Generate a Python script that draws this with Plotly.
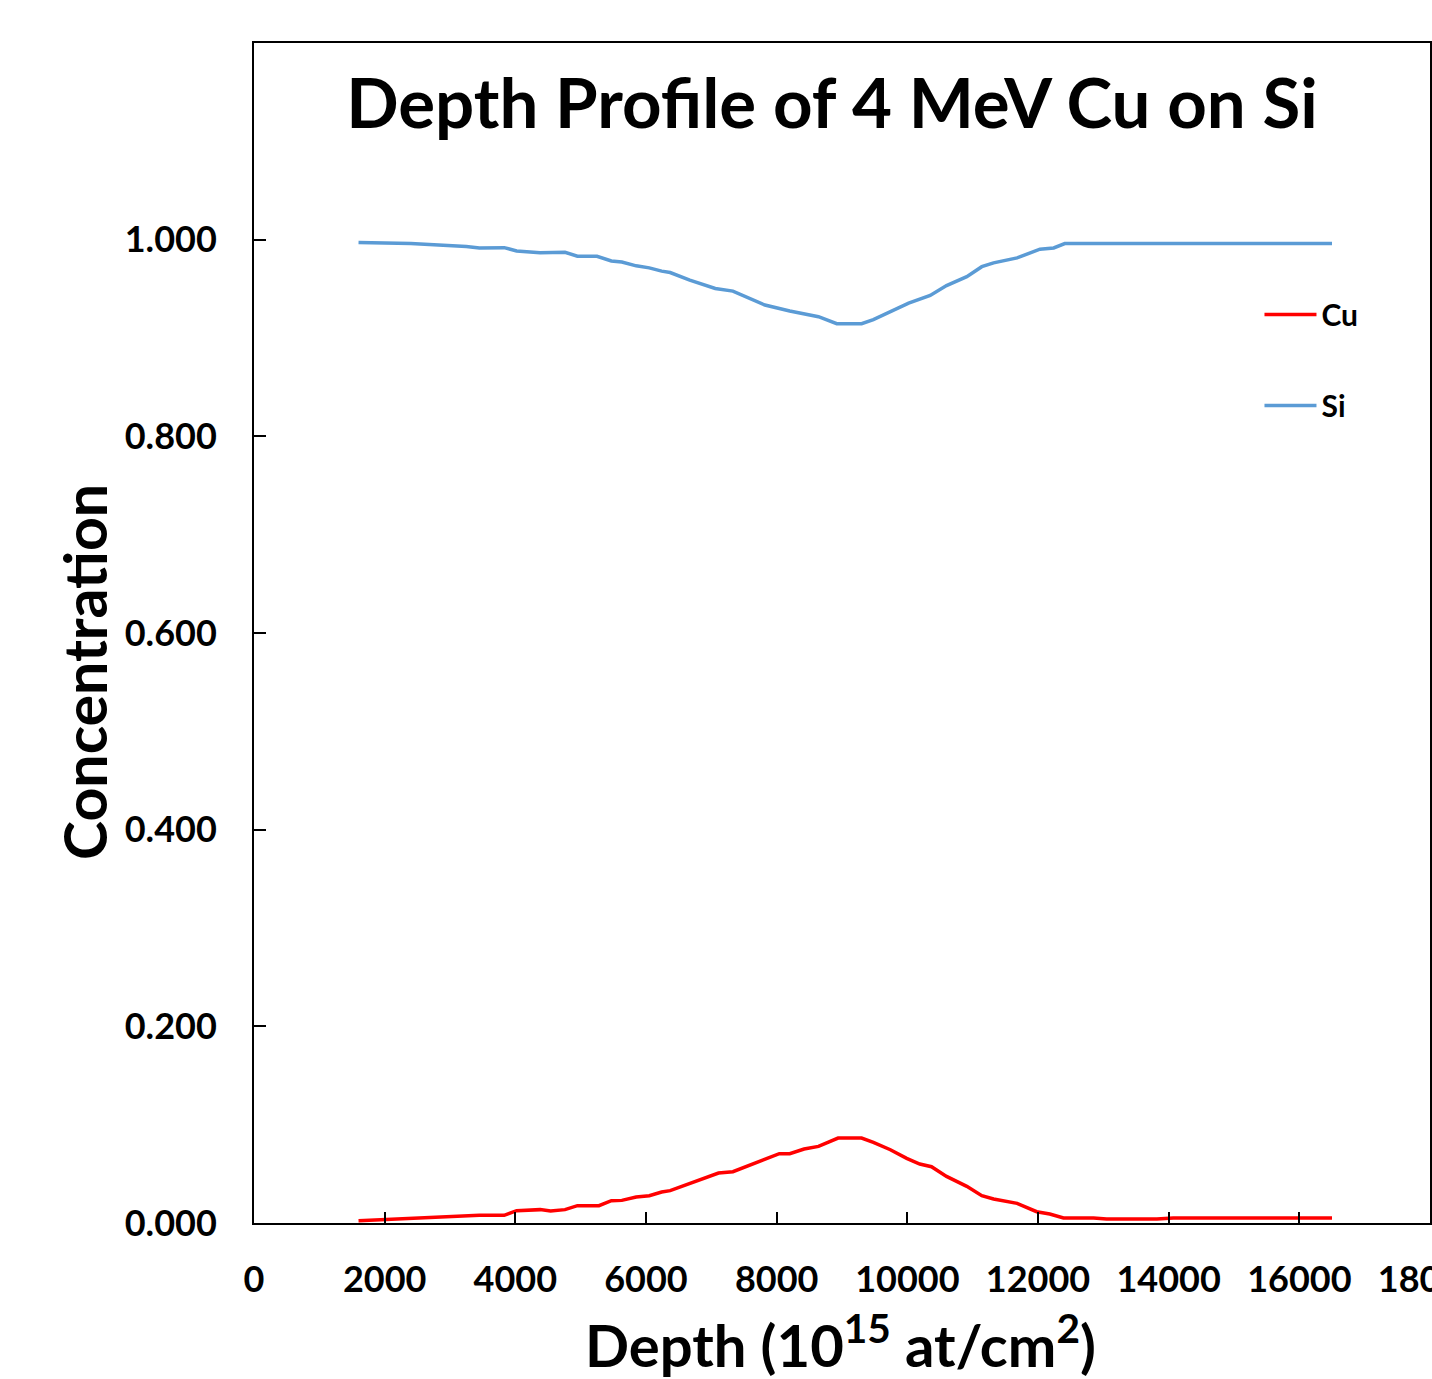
import plotly.graph_objects as go

# ---- data ----
cu_depth = [1600, 2400, 3250, 3450, 3830, 4020, 4380, 4540, 4760, 4950,
            5280, 5470, 5630, 5850, 6050, 6240, 6370, 6670, 7110, 7330,
            7880, 8040, 8200, 8420, 8640, 8940, 9300, 9480, 9740, 9990,
            10190, 10370, 10600, 10910, 11140, 11320, 11680, 11980, 12180, 12390,
            12850, 13050, 13820, 14070, 16500]
cu_conc = [0.0024, 0.0044, 0.0068, 0.0078, 0.0078, 0.0125, 0.0136, 0.0122, 0.0136, 0.0176,
           0.0176, 0.0227, 0.0230, 0.0264, 0.0278, 0.0315, 0.0329, 0.0400, 0.0508, 0.0522,
           0.0671, 0.0705, 0.0705, 0.0752, 0.0779, 0.0864, 0.0864, 0.0820, 0.0745, 0.0657,
           0.0600, 0.0572, 0.0474, 0.0373, 0.0278, 0.0244, 0.0200, 0.0115, 0.0091, 0.0051,
           0.0051, 0.0041, 0.0041, 0.0051, 0.0051]

si_depth = [1600, 2400, 3250, 3450, 3830, 4020, 4380, 4760, 4950, 5250,
            5470, 5630, 5850, 6050, 6240, 6370, 6670, 7060, 7330, 7820,
            8200, 8420, 8640, 8920, 9300, 9480, 9790, 10020, 10350, 10600,
            10910, 11140, 11320, 11680, 12030, 12240, 12410, 16500]
si_conc = [0.997, 0.996, 0.993, 0.9916, 0.9919, 0.9885, 0.9868, 0.9872, 0.9831, 0.9831,
           0.9784, 0.9773, 0.9734, 0.9713, 0.968, 0.9666, 0.9588, 0.9504, 0.9477, 0.9335,
           0.9274, 0.9241, 0.9217, 0.9146, 0.9146, 0.9187, 0.9278, 0.9355, 0.9432, 0.9533,
           0.9624, 0.9725, 0.9764, 0.9815, 0.9903, 0.9916, 0.996, 0.996]

x_ticks = [0, 2000, 4000, 6000, 8000, 10000, 12000, 14000, 16000, 18000]
y_ticks = [0.0, 0.2, 0.4, 0.6, 0.8, 1.0]

title_text = "Depth Profile of 4 MeV Cu on Si"
x_title = "Depth (10<sup>15</sup> at/cm<sup>2</sup>)"
y_title = "Concentration"

FONT = "Lato"

fig = go.Figure()
fig.add_trace(go.Scatter(x=cu_depth, y=cu_conc, mode="lines", name="Cu",
                         legendgroup="cu",
                         line=dict(color="#FF0000", width=3.5)))
fig.add_trace(go.Scatter(x=si_depth, y=si_conc, mode="lines", name="Si",
                         legendgroup="si",
                         line=dict(color="#5B9BD5", width=3.5)))

fig.update_layout(
    width=1432, height=1379,
    margin=dict(l=254, r=2, t=43, b=156, autoexpand=False),
    paper_bgcolor="white", plot_bgcolor="white",
    font=dict(family=FONT, color="black", weight="bold"),
    title=dict(text=title_text, x=0.581, xanchor="center", y=0.925, yanchor="middle",
               font=dict(family=FONT, size=69, color="black", weight="bold")),
    showlegend=True,
    legend=dict(x=0.855, xanchor="left", y=0.792, yanchor="top",
                font=dict(family=FONT, size=30, color="black", weight="bold"),
                bgcolor="rgba(0,0,0,0)", tracegroupgap=49, itemwidth=52,
                traceorder="grouped"),
    annotations=[
        dict(text=y_title, textangle=-90, xref="paper", yref="paper",
             x=-0.1437, y=0.467, xanchor="center", yanchor="middle", showarrow=False,
             font=dict(family=FONT, size=59, color="black", weight="bold")),
        dict(text=x_title, xref="paper", yref="paper",
             x=0.499, y=-0.1, xanchor="center", yanchor="middle", showarrow=False,
             font=dict(family=FONT, size=58, color="black", weight="bold")),
    ],
)

fig.update_xaxes(
    range=[0, 18000], tickvals=x_ticks, tickformat="d",
    ticks="inside", ticklen=11, tickwidth=2, tickcolor="black",
    showline=True, linecolor="black", linewidth=2, mirror=True,
    showgrid=False, zeroline=False, automargin=False,
    tickfont=dict(family=FONT, size=36, color="black", weight="bold"),
    ticklabelstandoff=24, ticklabeloverflow="allow",
)
fig.update_yaxes(
    range=[0, 1.2], tickvals=y_ticks, tickformat=".3f",
    ticks="inside", ticklen=12, tickwidth=2, tickcolor="black",
    showline=True, linecolor="black", linewidth=2, mirror=True,
    showgrid=False, zeroline=False, automargin=False,
    tickfont=dict(family=FONT, size=36, color="black", weight="bold"),
    ticklabelstandoff=28, ticklabeloverflow="allow",
)

fig.write_html("out.html")
